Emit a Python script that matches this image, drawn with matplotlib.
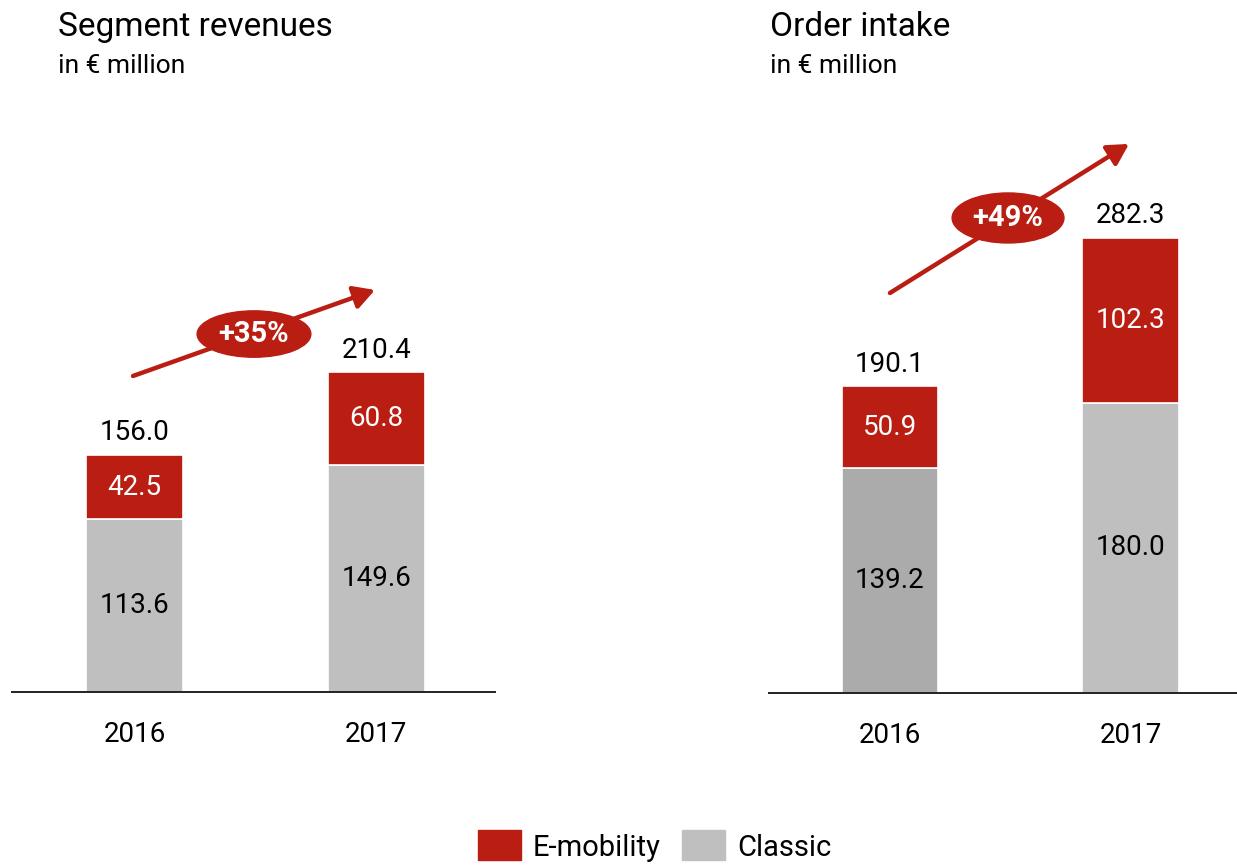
import matplotlib
matplotlib.use("Agg")
import matplotlib.pyplot as plt
from matplotlib.patches import Ellipse, FancyArrowPatch, Rectangle

plt.rcParams['font.family'] = ['Roboto', 'DejaVu Sans']

# ---- data ----
years = ["2016", "2017"]
rev_emobility = [42.5, 60.8]
rev_classic = [113.6, 149.6]
rev_total = [156.0, 210.4]
oi_emobility = [50.9, 102.3]
oi_classic = [139.2, 180.0]
oi_total = [190.1, 282.3]
rev_growth = "+35%"
oi_growth = "+49%"

RED = "#BA1D12"
GRAY = "#BFBFBF"
DARKGRAY = "#ABABAB"

W, H = 1237, 866
fig = plt.figure(figsize=(W / 100, H / 100), dpi=100)


def make_ax(left, right, base, top=100):
    return fig.add_axes([left / W, (H - base) / H, (right - left) / W, (base - top) / H])


def draw_panel(ax, emob, classic, total, classic_colors, ylim, xlim, growth,
               arrow_start, arrow_end, ell_center, ell_size):
    x = list(range(len(years)))
    ax.bar(x, classic, width=0.4, color=classic_colors, edgecolor="white", linewidth=1.2)
    ax.bar(x, emob, bottom=classic, width=0.4, color=RED, edgecolor="white", linewidth=1.2)
    ax.set_ylim(0, ylim)
    ax.set_xlim(*xlim)
    for s in ["left", "right", "top"]:
        ax.spines[s].set_visible(False)
    ax.spines["bottom"].set_linewidth(1.4)
    ax.spines["bottom"].set_color("#222222")
    ax.set_yticks([])
    ax.set_xticks(x)
    ax.set_xticklabels(years, fontsize=20)
    ax.tick_params(axis="x", length=0, pad=21)
    px = ylim / ax.get_position().height / H  # data units per pixel
    for i in x:
        ax.text(i, classic[i] / 2, f"{classic[i]:.1f}", ha="center", va="center", fontsize=20, color="black")
        ax.text(i, classic[i] + emob[i] / 2, f"{emob[i]:.1f}", ha="center", va="center", fontsize=20, color="white")
        ax.text(i, total[i] + 22 * px, f"{total[i]:.1f}", ha="center", va="center", fontsize=20, color="black")
    arr = FancyArrowPatch(arrow_start, arrow_end, arrowstyle="-|>,head_length=9,head_width=5",
                          mutation_scale=1.4, color=RED, linewidth=3.2, zorder=3, clip_on=False,
                          shrinkA=0, shrinkB=0)
    ax.add_patch(arr)
    ell = Ellipse(ell_center, ell_size[0], ell_size[1], color=RED, zorder=4, clip_on=False)
    ax.add_patch(ell)
    ax.text(ell_center[0], ell_center[1], growth, ha="center", va="center", fontsize=21,
            fontweight="bold", color="white", zorder=5)


ax1 = make_ax(12, 495, 692)
draw_panel(ax1, rev_emobility, rev_classic, rev_total, [GRAY, GRAY], 592 / 1.52,
           (-0.506, 1.49), rev_growth,
           (-0.006, 207.9), (0.994, 264.5), (0.494, 235.5), (0.47, 30.5))

ax2 = make_ax(769, 1237, 693)
draw_panel(ax2, oi_emobility, oi_classic, oi_total, [DARKGRAY, GRAY], 593 / 1.613,
           (-0.503, 1.443), oi_growth,
           (0.0, 248.0), (0.994, 340.4), (0.491, 294.5), (0.465, 31.0))

# titles
fig.text(58 / W, 1 - 27 / H, "Segment revenues", fontsize=24, ha="left", va="center")
fig.text(58 / W, 1 - 66 / H, "in € million", fontsize=19, ha="left", va="center")
fig.text(770 / W, 1 - 27 / H, "Order intake", fontsize=24, ha="left", va="center")
fig.text(770 / W, 1 - 66 / H, "in € million", fontsize=19, ha="left", va="center")

# legend
fig.patches.append(Rectangle((478 / W, 1 - 860 / H), 43 / W, 30 / H, transform=fig.transFigure,
                             color=RED))
fig.text(533 / W, 1 - 848 / H, "E-mobility", fontsize=21, ha="left", va="center")
fig.patches.append(Rectangle((682 / W, 1 - 860 / H), 43 / W, 30 / H, transform=fig.transFigure,
                             color=GRAY))
fig.text(737 / W, 1 - 848 / H, "Classic", fontsize=21, ha="left", va="center")

fig.savefig("out.png", dpi=100)
